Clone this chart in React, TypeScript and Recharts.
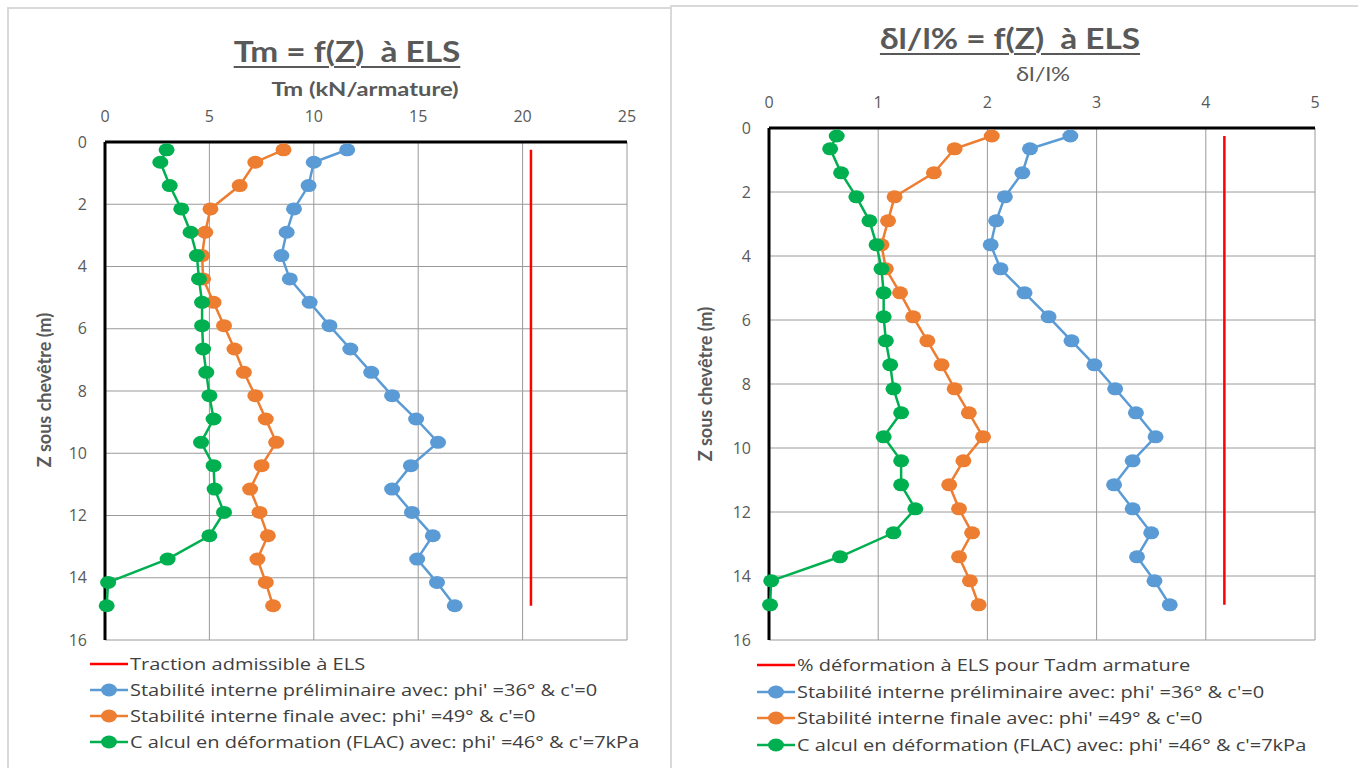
import React from 'react';
import { ScatterChart, Scatter, XAxis, YAxis, CartesianGrid } from 'recharts';

// Depth below the cap (m), shared by every series
const depths = [0.25, 0.65, 1.4, 2.15, 2.9, 3.65, 4.4, 5.15, 5.9, 6.65, 7.4, 8.15, 8.9, 9.65, 10.4, 11.15, 11.9, 12.65, 13.4, 14.15, 14.9];

// Tm (kN/armature)
const tmPrelim = [11.6, 10.0, 9.75, 9.05, 8.7, 8.45, 8.85, 9.8, 10.75, 11.75, 12.75, 13.75, 14.9, 15.95, 14.65, 13.75, 14.7, 15.7, 14.95, 15.9, 16.75];
const tmFinale = [8.55, 7.2, 6.45, 5.05, 4.8, 4.65, 4.7, 5.2, 5.7, 6.2, 6.65, 7.2, 7.7, 8.2, 7.5, 6.95, 7.4, 7.8, 7.3, 7.7, 8.05];
const tmFlac = [2.95, 2.65, 3.1, 3.65, 4.1, 4.4, 4.5, 4.65, 4.65, 4.7, 4.85, 5.0, 5.2, 4.6, 5.2, 5.25, 5.7, 5.0, 3.0, 0.15, 0.08];
const admDepths = [0.25, 14.9];
const tmAdm = [20.4, 20.4];

// dl/l (%)
const dlPrelim = [2.76, 2.39, 2.32, 2.16, 2.08, 2.03, 2.12, 2.34, 2.56, 2.77, 2.98, 3.17, 3.36, 3.54, 3.33, 3.16, 3.33, 3.5, 3.37, 3.53, 3.67];
const dlFinale = [2.04, 1.7, 1.51, 1.15, 1.09, 1.03, 1.07, 1.2, 1.32, 1.45, 1.58, 1.7, 1.83, 1.96, 1.78, 1.65, 1.74, 1.86, 1.74, 1.84, 1.92];
const dlFlac = [0.62, 0.56, 0.66, 0.8, 0.92, 0.985, 1.03, 1.05, 1.05, 1.07, 1.11, 1.14, 1.21, 1.05, 1.21, 1.21, 1.34, 1.14, 0.65, 0.02, 0.01];
const dlAdm = [4.17, 4.17];

const depthTicks = [0, 2, 4, 6, 8, 10, 12, 14, 16];
const tmTicks = [0, 5, 10, 15, 20, 25];
const dlTicks = [0, 1, 2, 3, 4, 5];

const BLUE = '#5B9BD5';
const ORANGE = '#ED7D31';
const GREEN = '#00B050';
const RED = '#FF0000';

const toPoints = (xs: number[], zs: number[]) => xs.map((x, i) => ({ x, z: zs[i] }));

// eslint-disable-next-line @typescript-eslint/no-explicit-any
const makeDot = (color: string) => (props: any) => (
    <ellipse cx={props.cx} cy={props.cy} rx={8} ry={6.5} fill={color} />
);
const noDot = () => <g />;

const tickStyle = { fill: '#595959', fontSize: 16, fontFamily: 'Open Sans' };

interface ProfileProps {
    left: number;
    width: number;
    height: number;
    margin: { top: number; right: number; bottom: number; left: number };
    xMax: number;
    xTicks: number[];
    prelim: number[];
    finale: number[];
    flac: number[];
    adm: number[];
}

const Profile: React.FC<ProfileProps> = ({ left, width, height, margin, xMax, xTicks, prelim, finale, flac, adm }) => (
    <div style={{ position: 'absolute', left, top: 0 }}>
        <ScatterChart width={width} height={height} margin={margin}>
            <CartesianGrid stroke="#9a9a9a" strokeWidth={1} />
            <XAxis
                type="number"
                dataKey="x"
                orientation="top"
                domain={[0, xMax]}
                ticks={xTicks}
                height={30}
                tick={tickStyle}
                tickLine={false}
                tickMargin={14}
                axisLine={{ stroke: '#000', strokeWidth: 3 }}
            />
            <YAxis
                type="number"
                dataKey="z"
                reversed
                domain={[0, 16]}
                ticks={depthTicks}
                width={40}
                tick={tickStyle}
                tickLine={false}
                tickMargin={12}
                axisLine={{ stroke: '#000', strokeWidth: 3 }}
            />
            <Scatter data={toPoints(adm, admDepths)} line={{ stroke: RED, strokeWidth: 2.5 }} shape={noDot} isAnimationActive={false} />
            <Scatter data={toPoints(prelim, depths)} line={{ stroke: BLUE, strokeWidth: 2.5 }} shape={makeDot(BLUE)} isAnimationActive={false} />
            <Scatter data={toPoints(finale, depths)} line={{ stroke: ORANGE, strokeWidth: 2.5 }} shape={makeDot(ORANGE)} isAnimationActive={false} />
            <Scatter data={toPoints(flac, depths)} line={{ stroke: GREEN, strokeWidth: 2.5 }} shape={makeDot(GREEN)} isAnimationActive={false} />
        </ScatterChart>
    </div>
);

const legendLabels = [
    "Stabilité interne préliminaire avec: phi' =36° & c'=0",
    "Stabilité interne finale avec: phi' =49° & c'=0",
    "C alcul en déformation (FLAC) avec: phi' =46° & c'=7kPa",
];
const legendColors = [BLUE, ORANGE, GREEN];

// the source picture is stretched horizontally, text included
const STRETCH = 1.25;

const Legend: React.FC<{ left: number; top: number; first: string; gap: number }> = ({ left, top, first, gap }) => (
    <div style={{ position: 'absolute', left, top, fontFamily: 'Open Sans', fontSize: 16, color: '#404040' }}>
        {[first, ...legendLabels].map((label, i) => (
            <div key={label} style={{ display: 'flex', alignItems: 'center', height: gap, whiteSpace: 'nowrap' }}>
                <svg width={38} height={16} style={{ marginRight: 2 }}>
                    <line x1={0} y1={8} x2={38} y2={8} stroke={i === 0 ? RED : legendColors[i - 1]} strokeWidth={2.5} />
                    {i > 0 && <ellipse cx={19} cy={8} rx={8} ry={6.5} fill={legendColors[i - 1]} />}
                </svg>
                <span style={{ display: 'inline-block', transform: `scaleX(${STRETCH})`, transformOrigin: 'left center' }}>{label}</span>
            </div>
        ))}
    </div>
);

const titleStyle: React.CSSProperties = {
    position: 'absolute', fontFamily: 'Lato', fontWeight: 700, fontSize: 29, color: '#595959',
    textDecoration: 'underline', textDecorationThickness: 2, textUnderlineOffset: 4, whiteSpace: 'pre',
    transform: `translateX(-50%) scaleX(1.15)`,
};
const axisTitleStyle: React.CSSProperties = {
    position: 'absolute', fontFamily: 'Lato', fontWeight: 700, fontSize: 19, color: '#595959', whiteSpace: 'pre',
    transform: `translateX(-50%) scaleX(${STRETCH})`,
};
const yTitleStyle: React.CSSProperties = {
    position: 'absolute', fontFamily: 'Lato', fontWeight: 700, fontSize: 18, color: '#595959', whiteSpace: 'nowrap',
    transform: 'translate(-50%, -50%) rotate(-90deg)',
};

export default function App() {
    return (
        <div style={{ position: 'fixed', left: 0, top: 0, width: 1358, height: 768, background: '#fff', overflow: 'hidden' }}>
            <div style={{ position: 'absolute', left: 7, top: 7, width: 661, height: 800, border: '2px solid #d9d9d9' }} />
            <div style={{ position: 'absolute', left: 670, top: 5, width: 686, height: 800, border: '2px solid #d9d9d9' }} />

            <Profile left={0} width={680} height={660} margin={{ top: 112, right: 53, bottom: 20, left: 65 }}
                xMax={25} xTicks={tmTicks} prelim={tmPrelim} finale={tmFinale} flac={tmFlac} adm={tmAdm} />
            <Profile left={670} width={688} height={660} margin={{ top: 98, right: 43, bottom: 20, left: 59 }}
                xMax={5} xTicks={dlTicks} prelim={dlPrelim} finale={dlFinale} flac={dlFlac} adm={dlAdm} />

            <div style={{ ...titleStyle, left: 347, top: 33 }}>Tm = f(Z)  à ELS</div>
            <div style={{ ...axisTitleStyle, left: 365, top: 77 }}>Tm (kN/armature)</div>
            <div style={{ ...yTitleStyle, left: 44, top: 390 }}>Z sous chevêtre (m)</div>

            <div style={{ ...titleStyle, left: 1010, top: 20 }}>δl/l% = f(Z)  à ELS</div>
            <div style={{ ...axisTitleStyle, left: 1043, top: 62, fontWeight: 400 }}>δl/l%</div>
            <div style={{ ...yTitleStyle, left: 705, top: 384 }}>Z sous chevêtre (m)</div>

            <Legend left={90} top={651} first="Traction admissible à ELS" gap={26} />
            <Legend left={757} top={652} first="% déformation à ELS pour Tadm armature" gap={26.5} />
        </div>
    );
}
